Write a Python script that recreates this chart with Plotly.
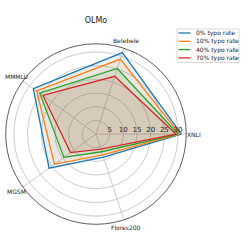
import math
import plotly.graph_objects as go

categories = ["XNLI", "Belebele", "MMMLU", "MGSM", "Flores200"]
series_names = ["0% typo rate", "10% typo rate", "40% typo rate", "70% typo rate"]
vals_0 = [31.2, 31.3, 28.3, 21.2, 8.9]
vals_10 = [30.6, 28.8, 26.8, 18.8, 8.0]
vals_40 = [30.0, 25.2, 25.4, 14.5, 6.8]
vals_70 = [29.2, 22.2, 24.0, 11.5, 5.8]
radial_ticks = [5, 10, 15, 20, 25, 30]

colors = ["#1f77b4", "#ff7f0e", "#2ca02c", "#d62728"]
fills = ["rgba(31,119,180,0.1)", "rgba(255,127,14,0.1)", "rgba(44,160,44,0.1)", "rgba(214,39,40,0.1)"]

W = H = 246
R_MAX = 33
DOM_X = [0.0232, 0.757]
DOM_Y = [0.0882, 0.822]

fig = go.Figure()
for name, vals, c, f in zip(series_names, [vals_0, vals_10, vals_40, vals_70], colors, fills):
    fig.add_trace(go.Scatterpolar(
        r=vals + [vals[0]], theta=categories + [categories[0]],
        mode="lines", name=name, fill="toself", fillcolor=f,
        line=dict(color=c, width=1.3), showlegend=False,
    ))

def px(x):
    return x / W

def py(y):
    return 1 - y / H

annotations = []
# category labels just outside the outer circle
cx = (DOM_X[0] + DOM_X[1]) / 2
cy = (DOM_Y[0] + DOM_Y[1]) / 2
rad = (DOM_X[1] - DOM_X[0]) / 2 * 1.085
for i, cat in enumerate(categories):
    a = math.radians(360 / len(categories) * i)
    annotations.append(dict(text=cat, xref="paper", yref="paper",
                            x=cx + rad * math.cos(a), y=cy + rad * math.sin(a),
                            xanchor="center", yanchor="middle", showarrow=False,
                            font=dict(size=6, color="#222")))

# compact legend (matplotlib-like)
shapes = [dict(type="rect", xref="paper", yref="paper",
               x0=px(177), x1=px(239), y0=py(29), y1=py(62.5),
               fillcolor="rgba(255,255,255,0.85)", line=dict(color="#d0d0d0", width=0.8),
               layer="above")]
for i, (name, c) in enumerate(zip(series_names, colors)):
    yy = 33 + i * 8.3
    shapes.append(dict(type="line", xref="paper", yref="paper",
                       x0=px(178.5), x1=px(190.5), y0=py(yy), y1=py(yy),
                       line=dict(color=c, width=1.3), layer="above"))
    annotations.append(dict(text=name, xref="paper", yref="paper",
                            x=px(194), y=py(yy), xanchor="left", yanchor="middle",
                            showarrow=False, font=dict(size=6, color="#222")))

fig.update_layout(
    width=W, height=H,
    margin=dict(l=0, r=0, t=0, b=0, autoexpand=False),
    paper_bgcolor="white",
    font=dict(family="DejaVu Sans", size=6, color="#222"),
    title=dict(text="OLMo", x=0.39, xanchor="center", y=py(20), yanchor="middle",
               font=dict(size=8, color="#222")),
    showlegend=False,
    shapes=shapes,
    annotations=annotations,
    polar=dict(
        domain=dict(x=DOM_X, y=DOM_Y),
        bgcolor="white",
        angularaxis=dict(rotation=0, direction="counterclockwise",
                         showline=True, linecolor="#333", linewidth=0.8,
                         gridcolor="#cccccc", gridwidth=0.8, ticks="",
                         showticklabels=False),
        radialaxis=dict(range=[0, R_MAX], tickvals=radial_ticks, angle=0,
                        side="counterclockwise", showline=False, ticks="",
                        gridcolor="#cccccc", gridwidth=0.8,
                        tickfont=dict(size=7, color="#222")),
    ),
)

fig.write_html("out.html", post_script="document.body.style.margin='0';",
               config={"displayModeBar": False})
